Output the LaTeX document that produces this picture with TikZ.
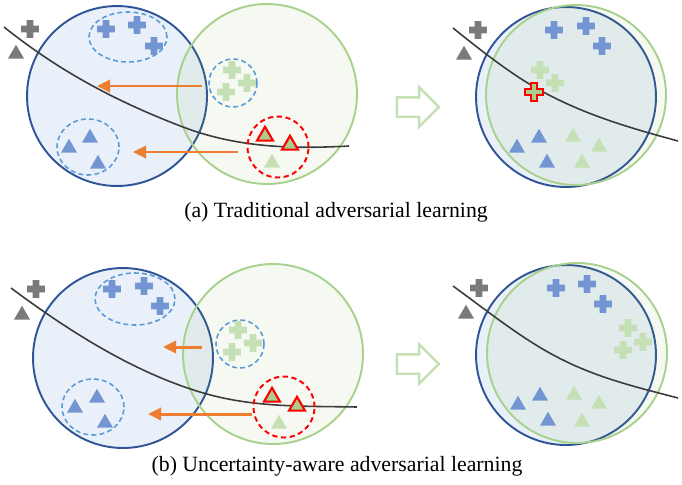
\documentclass[tikz,border=0pt]{standalone}
\usepackage{fontspec}
\setmainfont{Liberation Serif}
\usepackage{xcolor}
\usetikzlibrary{shapes.geometric, shapes.arrows, arrows.meta, positioning}
\definecolor{navy}{HTML}{2F5597}
\definecolor{bluefill}{HTML}{4472C4}
\definecolor{greenln}{HTML}{A9D18E}
\definecolor{greenfill}{HTML}{70AD47}
\definecolor{bluemk}{HTML}{7396D2}
\definecolor{greenmk}{HTML}{C5E0B4}
\definecolor{greendk}{HTML}{A9CC8F}
\definecolor{graymk}{HTML}{7A7A7A}
\definecolor{groupln}{HTML}{5B9BD5}
\definecolor{pushc}{HTML}{ED7D31}
\definecolor{bound}{HTML}{3B3B3B}

\begin{document}
\begin{tikzpicture}[x=0.02cm,y=-0.02cm,>=Triangle,
  srcdom/.style={circle,draw=navy,line width=1.1pt,fill=bluefill,fill opacity=0.11,inner sep=0pt,minimum size=3.6cm},
  tgtdom/.style={circle,draw=greenln,line width=1.1pt,fill=greenfill,fill opacity=0.07,inner sep=0pt,minimum size=3.6cm},
  group/.style={draw=groupln,line width=0.9pt,dash pattern=on 2.8pt off 1.8pt,inner sep=0pt},
  unsure/.style={circle,draw=red,line width=1.1pt,dash pattern=on 3pt off 2pt,inner sep=0pt,minimum size=1.22cm},
  tri/.style={regular polygon,regular polygon sides=3,inner sep=0pt,minimum size=0.37cm,fill=#1},
  redtri/.style={tri=greendk,draw=red,line width=1.2pt,minimum size=0.37cm},
  push/.style={->,draw=pushc,line width=1.7pt,>={Triangle[length=7.5pt,width=7pt]}},
  boundary/.style={draw=bound,line width=0.9pt},
  nextarrow/.style={single arrow,draw=greenmk,line width=1.4pt,fill=white,minimum height=0.84cm,single arrow head extend=0.2cm,inner xsep=0pt,inner ysep=0.17cm},
  caption/.style={font=\fontsize{12.4}{14}\selectfont},
  pics/plusmark/.style={code={\path[#1] (-8.8,-3.3) -- (-3.3,-3.3) -- (-3.3,-8.8) -- (3.3,-8.8) -- (3.3,-3.3) -- (8.8,-3.3) -- (8.8,3.3) -- (3.3,3.3) -- (3.3,8.8) -- (-3.3,8.8) -- (-3.3,3.3) -- (-8.8,3.3) -- cycle;}}]
  \useasboundingbox (0,0) rectangle (682,484);

  \node[srcdom] (a-src) at (117,96) {};
  \node[tgtdom] (a-tgt) at (267,94) {};
  \draw[boundary] (4,27) .. controls (64,75) and (123,104) .. (183,127) .. controls (238,148) and (294,149) .. (349,146);
  \node[group,ellipse,minimum width=1.56cm,minimum height=1cm] (a-gp) at (128,37) {};
  \node[group,ellipse,minimum width=1.24cm,minimum height=1.12cm] (a-gt) at (88,147) {};
  \node[group,circle,minimum size=0.96cm] (a-gg) at (233,83) {};
  \node[unsure] (a-un) at (278,147) {};
  \pic at (30,29) {plusmark={fill=graymk}};
  \node[tri=graymk] (a-gray) at (16,54) {};
  \foreach \p in {(106,29),(137,25),(154,46)} \pic at \p {plusmark={fill=bluemk}};
  \foreach \p in {(232,70),(247,83),(226,92)} \pic at \p {plusmark={fill=greenmk}};
  \foreach \p [count=\i] in {(69,148),(90,138),(98,164)} \node[tri=bluemk] (a-bt\i) at \p {};
  \node[redtri] (a-rt1) at (265,136) {};
  \node[redtri] (a-rt2) at (290,145) {};
  \node[tri=greenmk] (a-gt1) at (272,163) {};
  \coordinate (a-from1) at (202,86);
  \coordinate (a-to1) at (97,86);
  \coordinate (a-from2) at (238,152);
  \coordinate (a-to2) at (133,152);
  \draw[push] (a-from1) -- (a-to1);
  \draw[push] (a-from2) -- (a-to2);

  \node[nextarrow] (a-next) at (413,107) {};
  \node[srcdom] (a-src2) at (566,97) {};
  \node[tgtdom] (a-tgt2) at (576,95) {};
  \draw[boundary] (453,28) .. controls (484,53) and (516,78) .. (547,94) .. controls (591,117) and (634,129) .. (678,141);
  \pic at (478,30) {plusmark={fill=graymk}};
  \node[tri=graymk] (a-gray2) at (464,55) {};
  \foreach \p in {(554,30),(586,26),(602,46)} \pic at \p {plusmark={fill=bluemk}};
  \foreach \p in {(540,70),(555,83)} \pic at \p {plusmark={fill=greenmk}};
  \pic at (534,92) {plusmark={fill=greendk,draw=red,line width=1.2pt}};
  \foreach \p [count=\i] in {(517,148),(539,138),(547,163)} \node[tri=bluemk] (a-bs\i) at \p {};
  \foreach \p [count=\i] in {(573,137),(599,147),(582,163)} \node[tri=greenmk] (a-gs\i) at \p {};

  \node[caption] (a-cap) at (336,212) {(a) Traditional adversarial learning};

  \node[srcdom] (b-src) at (123,358) {};
  \node[tgtdom] (b-tgt) at (273,354) {};
  \draw[boundary] (11,288) .. controls (74,335) and (137,373) .. (200,392) .. controls (252,408) and (305,406) .. (357,407);
  \node[group,ellipse,minimum width=1.6cm,minimum height=1.04cm] (b-gp) at (135,299) {};
  \node[group,ellipse,minimum width=1.24cm,minimum height=1.12cm] (b-gt) at (93,407) {};
  \node[group,circle,minimum size=0.96cm] (b-gg) at (240,344) {};
  \node[unsure] (b-un) at (284,407) {};
  \pic at (36,289) {plusmark={fill=graymk}};
  \node[tri=graymk] (b-gray) at (22,315) {};
  \foreach \p in {(112,289),(144,286),(160,306)} \pic at \p {plusmark={fill=bluemk}};
  \foreach \p in {(238,330),(253,343),(232,352)} \pic at \p {plusmark={fill=greenmk}};
  \foreach \p [count=\i] in {(75,408),(97,398),(105,423)} \node[tri=bluemk] (b-bt\i) at \p {};
  \node[redtri] (b-rt1) at (272,397) {};
  \node[redtri] (b-rt2) at (297,406) {};
  \node[tri=greenmk] (b-gt1) at (279,424) {};
  \coordinate (b-from1) at (202,347);
  \coordinate (b-to1) at (163,347);
  \coordinate (b-from2) at (252,414);
  \coordinate (b-to2) at (148,414);
  \draw[push] (b-from1) -- (b-to1);
  \draw[push] (b-from2) -- (b-to2);

  \node[nextarrow] (b-next) at (413,364) {};
  \node[srcdom] (b-src2) at (566,355) {};
  \node[tgtdom] (b-tgt2) at (577,353) {};
  \draw[boundary] (453,286) .. controls (490,313) and (526,342) .. (563,360) .. controls (601,379) and (640,388) .. (678,398);
  \pic at (479,288) {plusmark={fill=graymk}};
  \node[tri=graymk] (b-gray2) at (466,314) {};
  \foreach \p in {(556,288),(587,284),(603,304)} \pic at \p {plusmark={fill=bluemk}};
  \foreach \p in {(628,328),(643,342),(623,350)} \pic at \p {plusmark={fill=greenmk}};
  \foreach \p [count=\i] in {(518,405),(540,396),(548,421)} \node[tri=bluemk] (b-bs\i) at \p {};
  \foreach \p [count=\i] in {(574,395),(599,404),(582,422)} \node[tri=greenmk] (b-gs\i) at \p {};

  \node[caption] (b-cap) at (337,466) {(b) Uncertainty-aware adversarial learning};
\end{tikzpicture}
\end{document}
